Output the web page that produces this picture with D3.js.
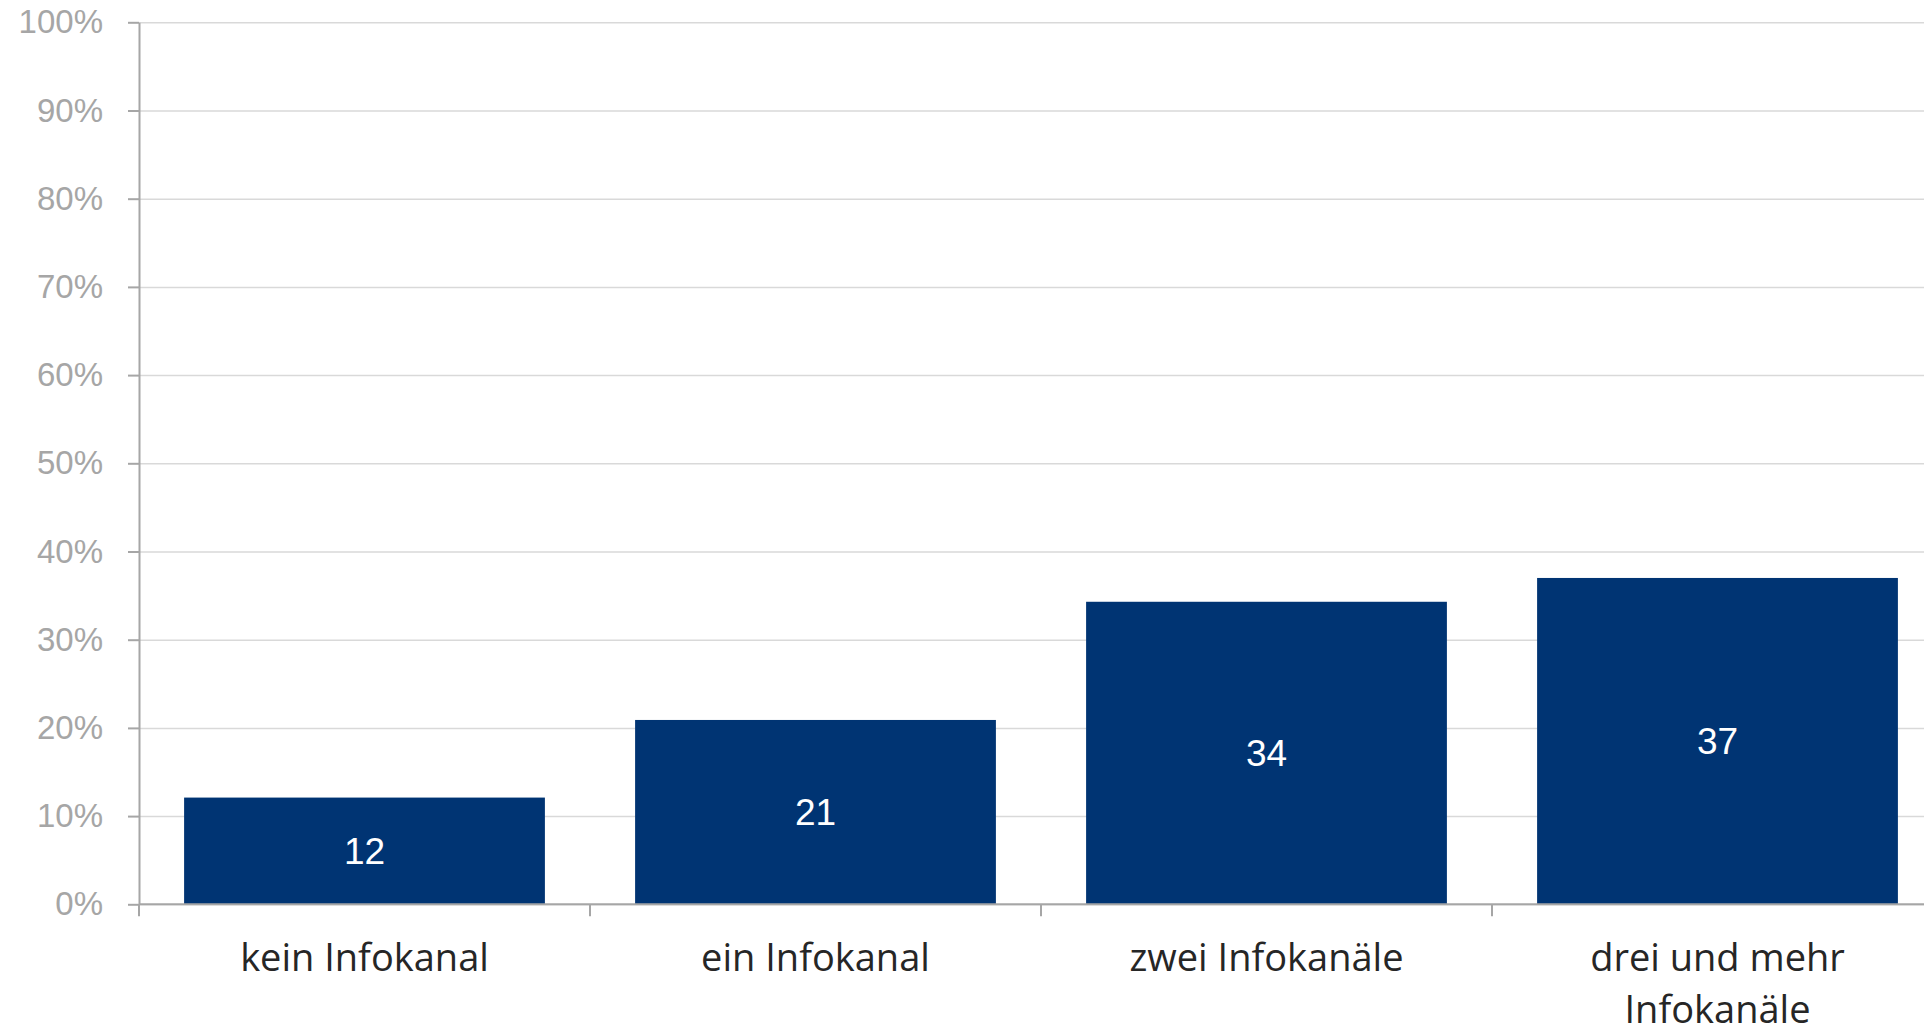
<!DOCTYPE html>
<html>
<head>
<meta charset="utf-8">
<script src="https://cdn.jsdelivr.net/npm/d3@7"></script>
<style>
  body { margin: 0; background: #fff; overflow: hidden; }
  text { font-family: "Liberation Sans", Arial, sans-serif; }
</style>
</head>
<body>
<script>
// data (share in %)
const categories = ['kein Infokanal', 'ein Infokanal', 'zwei Infokanäle', 'drei und mehr Infokanäle']
const values = [12.1, 20.9, 34.3, 37.0]
const labels = ['12', '21', '34', '37']
const yTicks = [0, 10, 20, 30, 40, 50, 60, 70, 80, 90, 100]

const width = 1924, height = 1027
const plot = {left: 139, top: 22.3, bottom: 904.3, right: 1943}

const svg = d3.select('body').append('svg')
    .attr('width', width)
    .attr('height', height)

const x = d3.scaleBand()
    .domain(categories)
    .range([plot.left, plot.right])
    .paddingInner(0.2)
    .paddingOuter(0.1)

const y = d3.scaleLinear()
    .domain([0, 100])
    .range([plot.bottom, plot.top])

// gridlines
svg.append('g')
    .attr('transform', 'translate(' + plot.left + ',0)')
    .call(d3.axisLeft(y).tickValues(yTicks).tickSize(-(plot.right - plot.left)).tickFormat(''))
    .call(g => g.select('.domain').remove())
    .call(g => g.selectAll('line').attr('stroke', '#d9d9d9').attr('stroke-width', 1.5))

// bars
svg.selectAll('.bar').data(values)
    .enter()
    .append('rect')
        .attr('class', 'bar')
        .attr('x', (d, i) => x(categories[i]))
        .attr('y', d => y(d))
        .attr('width', x.bandwidth())
        .attr('height', d => y(0) - y(d))
        .attr('fill', '#003473')

// value labels in the middle of bars
svg.selectAll('.val').data(values)
    .enter()
    .append('text')
        .attr('class', 'val')
        .attr('x', (d, i) => x(categories[i]) + x.bandwidth() / 2)
        .attr('y', d => (y(d) + y(0)) / 2)
        .attr('dy', '0.36em')
        .attr('text-anchor', 'middle')
        .attr('fill', '#ffffff')
        .style('font-size', '37px')
        .text((d, i) => labels[i])

// y axis
svg.append('g')
    .attr('transform', 'translate(' + plot.left + ',0)')
    .call(d3.axisLeft(y).tickValues(yTicks).tickSize(11).tickSizeOuter(0).tickPadding(25)
        .tickFormat(d => d + '%'))
    .call(g => g.select('.domain').attr('stroke', '#a6a6a6').attr('stroke-width', 2))
    .call(g => g.selectAll('line').attr('stroke', '#a6a6a6').attr('stroke-width', 2))
    .call(g => g.selectAll('text')
        .attr('fill', '#a6a6a6')
        .style('font-size', '33px')
        .style('font-family', '"Liberation Sans", Arial, sans-serif'))

// x axis: baseline + ticks between categories
const xAxis = svg.append('g')
    .attr('transform', 'translate(0,' + plot.bottom + ')')

xAxis.append('line')
    .attr('x1', plot.left)
    .attr('x2', plot.right)
    .attr('stroke', '#a6a6a6')
    .attr('stroke-width', 2)

const bounds = d3.range(categories.length + 1).map(i => plot.left + i * x.step())
xAxis.selectAll('.xtick').data(bounds)
    .enter()
    .append('line')
        .attr('x1', d => d)
        .attr('x2', d => d)
        .attr('y1', 0)
        .attr('y2', 12)
        .attr('stroke', '#a6a6a6')
        .attr('stroke-width', 2)

// category labels, wrapped to the bar width
const catText = xAxis.selectAll('.cat').data(categories)
    .enter()
    .append('text')
        .attr('class', 'cat')
        .attr('x', d => x(d) + x.bandwidth() / 2)
        .attr('y', 67)
        .attr('text-anchor', 'middle')
        .attr('fill', '#262626')
        .style('font-family', '"Open Sans", sans-serif')
        .style('font-size', '38px')

catText.each(function(d) {
    const t = d3.select(this)
    const words = d.split(' ')
    let line = []
    let tspan = t.append('tspan').attr('x', x(d) + x.bandwidth() / 2).attr('dy', 0)
    words.forEach(w => {
        line.push(w)
        tspan.text(line.join(' '))
        if (tspan.node().getComputedTextLength() > x.bandwidth() && line.length > 1) {
            line.pop()
            tspan.text(line.join(' '))
            line = [w]
            tspan = t.append('tspan').attr('x', x(d) + x.bandwidth() / 2).attr('dy', 51.5).text(w)
        }
    })
})
</script>
</body>
</html>
